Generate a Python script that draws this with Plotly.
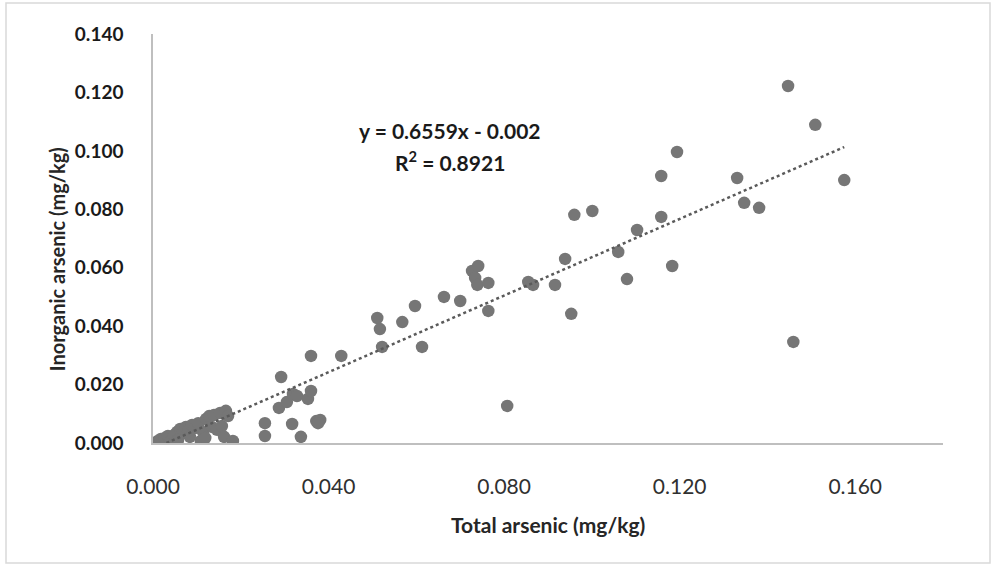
import plotly.graph_objects as go

# Total arsenic (mg/kg) and inorganic arsenic (mg/kg) per sample
total_as = [
    0.0011, 0.0018, 0.0027, 0.0034, 0.0041, 0.0048, 0.0055, 0.0062, 0.0068, 0.0075,
    0.0082, 0.0089, 0.0096, 0.0103, 0.0109, 0.0114, 0.0121, 0.0128, 0.0134, 0.0139,
    0.0146, 0.0153, 0.0157, 0.0166, 0.0171, 0.0162, 0.0182, 0.0119, 0.0084, 0.0057,
    0.0255, 0.0255, 0.0287, 0.0305, 0.0319, 0.0328, 0.0353, 0.0360, 0.0292, 0.0317,
    0.0337, 0.0372, 0.0381, 0.0376, 0.0360, 0.0429,
    0.0511, 0.0517, 0.0522, 0.0568, 0.0597, 0.0613, 0.0663, 0.0700, 0.0727, 0.0741,
    0.0734, 0.0739, 0.0764, 0.0764, 0.0855, 0.0866, 0.0916, 0.0807, 0.0939, 0.0953,
    0.0960, 0.1001, 0.1060, 0.1080, 0.1103, 0.1158, 0.1158, 0.1183, 0.1194, 0.1331,
    0.1347, 0.1381, 0.1447, 0.1459, 0.1509, 0.1575,
]
inorganic_as = [
    0.0007, 0.0014, 0.0017, 0.0024, 0.0007, 0.0027, 0.0038, 0.0048, 0.0034, 0.0055,
    0.0045, 0.0062, 0.0051, 0.0068, 0.0007, 0.0038, 0.0082, 0.0092, 0.0055, 0.0096,
    0.0045, 0.0103, 0.0058, 0.0110, 0.0092, 0.0021, 0.0007, 0.0017, 0.0021, 0.0010,
    0.0068, 0.0024, 0.0120, 0.0140, 0.0168, 0.0161, 0.0151, 0.0178, 0.0226, 0.0065,
    0.0021, 0.0075, 0.0079, 0.0068, 0.0298, 0.0298,
    0.0428, 0.0390, 0.0329, 0.0414, 0.0469, 0.0329, 0.0500, 0.0486, 0.0589, 0.0606,
    0.0565, 0.0541, 0.0548, 0.0452, 0.0551, 0.0541, 0.0541, 0.0127, 0.0630, 0.0442,
    0.0781, 0.0794, 0.0654, 0.0561, 0.0729, 0.0914, 0.0774, 0.0606, 0.0996, 0.0907,
    0.0822, 0.0805, 0.1222, 0.0346, 0.1089, 0.0900,
]

# Linear trend: y = 0.6559x - 0.002, R² = 0.8921
slope = 0.6559
intercept = -0.002
r_squared = 0.8921

x_tick_vals = [0.0, 0.04, 0.08, 0.12, 0.16]
y_tick_vals = [0.0, 0.02, 0.04, 0.06, 0.08, 0.10, 0.12, 0.14]

x_start = max(min(total_as), -intercept / slope)
x_end = max(total_as)
trend_x = [x_start, x_end]
trend_y = [slope * v + intercept for v in trend_x]

fig = go.Figure()
fig.add_trace(go.Scatter(
    x=total_as, y=inorganic_as, mode="markers",
    marker=dict(size=12.5, color="#767676", line=dict(width=0)),
    showlegend=False, hoverinfo="x+y",
))
fig.add_trace(go.Scatter(
    x=trend_x, y=trend_y, mode="lines",
    line=dict(color="#5a5a5a", width=2.5, dash="dot"),
    showlegend=False, hoverinfo="skip",
))

font_family = "Lato, 'Open Sans', sans-serif"

fig.update_layout(
    width=996, height=566,
    margin=dict(l=153, r=53, t=34, b=123),
    paper_bgcolor="white", plot_bgcolor="white",
    font=dict(family=font_family, color="#262626"),
    xaxis=dict(
        range=[0, 0.18], tickvals=x_tick_vals, tickformat=".3f",
        showgrid=False, zeroline=False, showline=True, linecolor="#bfbfbf", linewidth=1.5,
        ticks="", ticklabelstandoff=24,
        tickfont=dict(size=21, color="#303030", family=font_family),
    ),
    yaxis=dict(
        range=[0, 0.14], tickvals=y_tick_vals, tickformat=".3f",
        showgrid=False, zeroline=False, showline=True, linecolor="#bfbfbf", linewidth=1.5,
        ticks="", ticklabelstandoff=24,
        tickfont=dict(size=19, color="#1a1a1a", family=font_family, weight="bold"),
    ),
    annotations=[
        dict(text="<b>Total arsenic (mg/kg)</b>", xref="paper", yref="paper",
             x=0.5, y=-0.2, xanchor="center", yanchor="middle", showarrow=False,
             font=dict(size=21, color="#262626")),
        dict(text="<b>Inorganic arsenic (mg/kg)</b>", xref="paper", yref="paper",
             x=-0.121, y=0.45, xanchor="center", yanchor="middle", showarrow=False,
             textangle=-90, font=dict(size=20, color="#262626")),
        dict(text=f"<b>y = {slope}x - {abs(intercept)}</b>", xref="paper", yref="paper",
             x=0.376, y=0.763, xanchor="center", yanchor="middle", showarrow=False,
             font=dict(size=21, color="#1a1a1a")),
        dict(text=f"<b>R<sup>2</sup> = {r_squared}</b>", xref="paper", yref="paper",
             x=0.376, y=0.689, xanchor="center", yanchor="middle", showarrow=False,
             font=dict(size=21, color="#1a1a1a")),
    ],
    shapes=[
        dict(type="rect", xref="paper", yref="paper",
             x0=(6 - 153) / 790, x1=(990 - 153) / 790,
             y0=(443 - 563) / 409, y1=(443 - 3) / 409,
             line=dict(color="#d9d9d9", width=1.5), fillcolor="rgba(0,0,0,0)", layer="below"),
    ],
)

fig.write_html("out.html")
